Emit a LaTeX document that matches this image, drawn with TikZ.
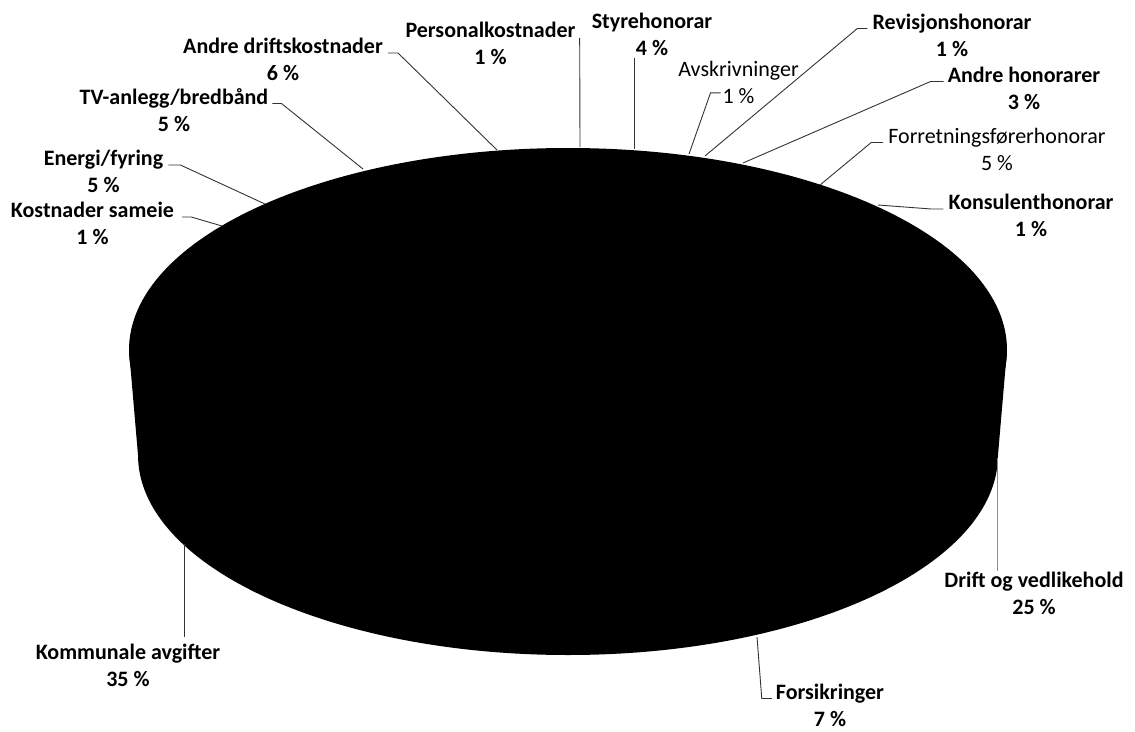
\documentclass[tikz,border=0pt]{standalone}
\usepackage{fontspec}
\setmainfont{Carlito}
\usetikzlibrary{calc}
\tikzset{
  slicelabel/.style={
    align=center,
    inner sep=0pt,
    font=\bfseries\fontsize{22}{27}\selectfont
  },
%
  thinlabel/.style={
    slicelabel,
    font=\mdseries\fontsize{22}{27}\selectfont
  },
%
  leader/.style={
    draw=#1,
    line width=0.9pt
  },
  leader/.default={black!80},
%
  piebody/.style={
    fill=black
  },
}

\begin{document}
\begin{tikzpicture}[x=1pt,y=-1pt]
\useasboundingbox (0,0) rectangle (1135,731);

\fill[piebody] (568,455) ellipse [x radius=430, y radius=200];
\fill[piebody] (129,350) -- (1007,350) -- (998,455) -- (138,455) -- cycle;
\fill[piebody] (568,350) ellipse [x radius=439, y radius=202];

\coordinate (pAdk) at (497,150);
\coordinate (pTv) at (363,169);
\coordinate (pEn) at (265,204);
\coordinate (pKost) at (222,226);
\coordinate (pPers) at (580,147);
\coordinate (pStyre) at (634,149);
\coordinate (pAvs) at (689,154);
\coordinate (pRev) at (705,156);
\coordinate (pAh) at (743,163);
\coordinate (pForr) at (820,185);
\coordinate (pKons) at (878,205);
\coordinate (pDrift) at (997,458);
\coordinate (pFors) at (757,637);
\coordinate (pKomm) at (184,544);

\node[slicelabel] at (283,59.5) (adk) {Andre driftskostnader\\6 \%};
\node[slicelabel] at (174,110) (tv) {TV-anlegg/bredbånd\\5 \%};
\node[slicelabel] at (103.5,171.5) (en) {Energi/fyring\\5 \%};
\node[slicelabel] at (92.5,223.5) (kost) {Kostnader sameie\\1 \%};
\node[slicelabel] at (490.5,43.5) (pers) {Personalkostnader\\1 \%};
\node[slicelabel] at (652,34.5) (styre) {Styrehonorar\\4 \%};
\node[thinlabel] at (738.5,82.5) (avs) {Avskrivninger\\1 \%};
\node[slicelabel] at (952,35) (rev) {Revisjonshonorar\\1 \%};
\node[slicelabel] at (1024,88) (ah) {Andre honorarer\\3 \%};
\node[thinlabel] at (997,149) (forr) {Forretningsførerhonorar\\5 \%};
\node[slicelabel] at (1031,215.5) (kons) {Konsulenthonorar\\1 \%};
\node[slicelabel] at (1034,593) (drift) {Drift og vedlikehold\\25 \%};
\node[slicelabel] at (830,705) (fors) {Forsikringer\\7 \%};
\node[slicelabel] at (128,665) (komm) {Kommunale avgifter\\35 \%};

\draw[leader] ($(adk.east)+(5,-6.5)$) -- ++(10,0) -- (pAdk);
\draw[leader] ($(tv.east)+(4,-6.5)$) -- ++(9,0) -- (pTv);
\draw[leader] ($(en.east)+(5,-6.5)$) -- ++(12,0) -- (pEn);
\draw[leader] ($(kost.east)+(8,-6.5)$) -- ++(9,0) -- (pKost);
\draw[leader] (pPers) -- ($(pers.north east)+(4,16)$);
\draw[leader] (pStyre) -- ($(styre.south)+(-18,2)$);
\draw[leader] ($(avs.south)+(-18,-11)$) -- ++(-10,0) -- (pAvs);
\draw[leader] ($(rev.west)+(-5,-6.5)$) -- ++(-10,0) -- (pRev);
\draw[leader] ($(ah.west)+(-4,-6.5)$) -- ++(-13,0) -- (pAh);
\draw[leader] ($(forr.west)+(-5,-6.5)$) -- ++(-12,0) -- (pForr);
\draw[leader] ($(kons.west)+(-5,-6.5)$) -- ++(-12,0) -- (pKons);
\draw[leader=black!45] (pDrift) -- (pDrift |- drift.north);
\draw[leader] (pFors) -- ($(fors.west)+(-14,-6.5)$) -- ++(10,0);
\draw[leader] (pKomm) -- ($(pKomm |- komm.north)+(0,-6)$);

\end{tikzpicture}
\end{document}
